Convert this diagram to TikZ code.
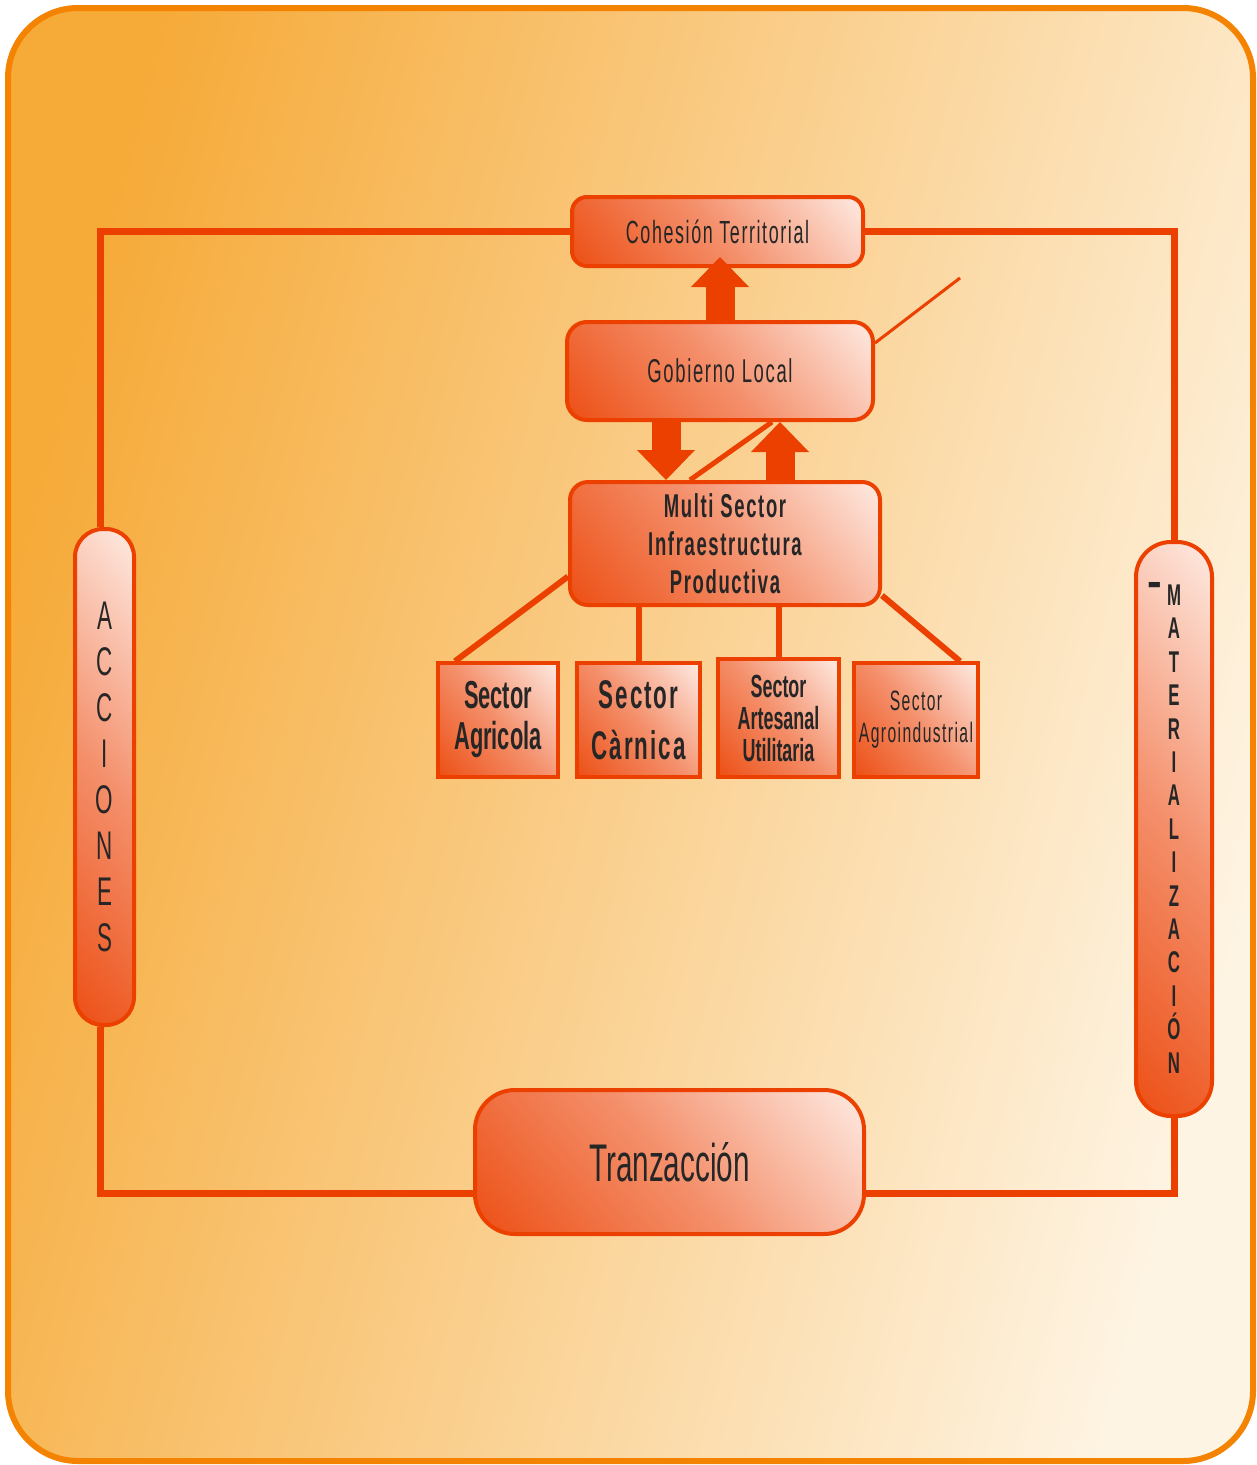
\documentclass[tikz,border=0pt]{standalone}
\usepackage{fontspec}
\setmainfont{Liberation Sans}
\newfontfamily\narrowfont[FakeStretch=0.56]{Liberation Sans}
\newfontfamily\spacedfont[FakeStretch=0.56,LetterSpace=5]{Liberation Sans}
\usetikzlibrary{arrows.meta}
\definecolor{bgdark}{HTML}{F6AA38}
\definecolor{bglight}{HTML}{FEF4E3}
\definecolor{frameor}{HTML}{F38300}
\definecolor{loopred}{HTML}{EC4000}
\definecolor{boxdark}{HTML}{EC4A0E}
\definecolor{boxmid}{HTML}{F4906C}
\definecolor{boxlight}{HTML}{FFF2EC}
\definecolor{inkgray}{HTML}{262626}
\pgfdeclareverticalshading{boxfade}{100bp}{color(0bp)=(boxdark); color(12bp)=(boxdark);
  color(50bp)=(boxmid); color(88bp)=(boxlight); color(100bp)=(boxlight)}

\begin{document}
\begin{tikzpicture}[x=1pt,y=-1pt,
  blockbox/.style={draw=loopred, line width=4pt, rounded corners=18pt,
    shading=boxfade, shading angle=-50,
    text=inkgray, align=center, inner sep=0pt},
  sectorbox/.style={blockbox, rounded corners=0pt, line width=3.5pt},
  loopline/.style={draw=loopred, line width=7pt},
  bigarrow/.style={draw=loopred, line width=29pt,
    -{Triangle[length=30pt,width=58pt,line width=0pt]}},
  linkline/.style={draw=loopred, line width=6pt}]
\useasboundingbox (0,0) rectangle (1257,1465);
\draw[draw=frameor, line width=6pt, rounded corners=70pt, left color=bgdark,
  right color=bglight, shading angle=75] (8,8) rectangle (1253,1461);

% cuadros
\node[blockbox, minimum width=291pt, minimum height=69pt, rounded corners=15pt,
  font=\spacedfont\fontsize{32}{37}\selectfont] (coh) at (717.5,231.5) {Cohesión Territorial};
\node[blockbox, minimum width=306pt, minimum height=98pt, rounded corners=20pt,
  font=\spacedfont\fontsize{33}{38}\selectfont] (gob) at (720,371) {Gobierno Local};
\node[blockbox, minimum width=310pt, minimum height=123pt,
  font=\spacedfont\bfseries\fontsize{33}{38}\selectfont] (multi) at (725,543.5)
  {Multi Sector\\Infraestructura\\Productiva};
\node[sectorbox, minimum width=120pt, minimum height=114pt,
  font=\narrowfont\bfseries\fontsize{39}{41}\selectfont] (agri) at (498,720) {Sector\\Agricola};
\node[sectorbox, minimum width=123pt, minimum height=114pt,
  font=\spacedfont\bfseries\fontsize{40}{51}\selectfont] (carn) at (638.5,720) {Sector\\Càrnica};
\node[sectorbox, minimum width=121pt, minimum height=118pt,
  font=\narrowfont\bfseries\fontsize{32}{32}\selectfont] (arte) at (778.5,718)
  {Sector\\Artesanal\\Utilitaria};
\node[sectorbox, minimum width=124pt, minimum height=114pt,
  font=\spacedfont\fontsize{28}{32}\selectfont] (agro) at (916,720) {Sector\\Agroindustrial};
\node[blockbox, minimum width=59pt, minimum height=496pt, rounded corners=28pt,
  font=\narrowfont\fontsize{40}{46}\selectfont] (acc) at (104.5,777)
  {A\\C\\C\\I\\O\\N\\E\\S};
\node[blockbox, minimum width=76pt, minimum height=574pt, rounded corners=35pt,
  font=\narrowfont\bfseries\fontsize{30}{33.4}\selectfont] (mat) at (1174,829)
  {M\\A\\T\\E\\R\\I\\A\\L\\I\\Z\\A\\C\\I\\Ó\\N};
\node[text=inkgray, inner sep=0pt, font=\bfseries\fontsize{44}{44}\selectfont] (guion) at (1155,589) {-};
\node[blockbox, minimum width=389pt, minimum height=144pt, rounded corners=40pt,
  font=\narrowfont\fontsize{53}{60}\selectfont] (tran) at (669.5,1162) {Tranzacción};
\coordinate (gobtail) at (960,278);

% ciclo
\draw[loopline] ([xshift=-4pt]acc.north) |- (coh.west) (coh.east) -| (mat.north)
  (mat.south) |- ([yshift=-31pt]tran.east) ([yshift=-31pt]tran.west) -| ([xshift=-4pt]acc.south);

% enlaces
\draw[loopred, line width=3pt] ([yshift=28pt]gob.east) -- (gobtail);
\draw[loopred, line width=5pt] ([xshift=-35pt]multi.north) -- ([xshift=52pt]gob.south);
\draw[bigarrow, shorten >=-11pt] (gob.north) -- (gob.north |- coh.south);
\draw[bigarrow] ([xshift=-54pt]gob.south) -- ([xshift=-54pt]gob.south |- multi.north);
\draw[bigarrow] ([xshift=55pt]multi.north) -- ([xshift=55pt]multi.north |- gob.south);
\draw[linkline] ([yshift=-33pt]multi.west) -- ([xshift=-43pt]agri.north);
\draw[linkline] (carn.north |- multi.south) -- (carn.north);
\draw[linkline] (arte.north |- multi.south) -- (arte.north);
\draw[linkline] ([yshift=-52pt]multi.east) -- ([xshift=44pt]agro.north);
\end{tikzpicture}
\end{document}
